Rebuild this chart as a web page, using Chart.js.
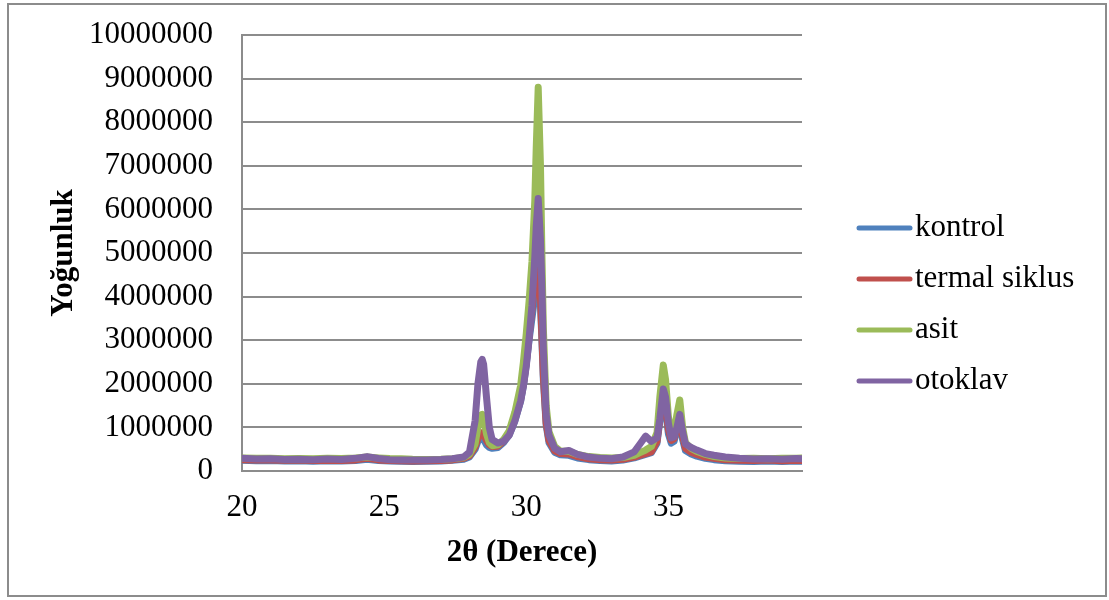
<!DOCTYPE html>
<html>
<head>
<meta charset="utf-8">
<script src="https://cdn.jsdelivr.net/npm/chart.js@4/dist/chart.umd.min.js"></script>
<style>
	body { margin: 0; background: #ffffff; }
	#wrap { width: 1109px; height: 600px; }
</style>
</head>
<body>
<div id="wrap"><canvas id="xrdChart" width="1109" height="600"></canvas></div>
<script>
'use strict';

// 2θ positions (degrees)
var twoTheta = [
	20.0, 20.5, 21.0, 21.5, 22.0, 22.5, 23.0, 23.5, 24.0, 24.4,
	24.8, 25.2, 25.6, 26.0, 26.5, 27.0, 27.4, 27.8, 28.0, 28.2,
	28.3, 28.4, 28.45, 28.5, 28.6, 28.7, 28.8, 29.0, 29.2, 29.4,
	29.6, 29.8, 29.9, 30.0, 30.1, 30.2, 30.3, 30.35, 30.42, 30.5,
	30.55, 30.6, 30.7, 30.8, 31.0, 31.2, 31.5, 31.8, 32.2, 32.6,
	33.0, 33.4, 33.8, 34.0, 34.2, 34.4, 34.6, 34.7, 34.82, 34.9,
	35.0, 35.1, 35.2, 35.3, 35.4, 35.5, 35.6, 35.8, 36.0, 36.3,
	36.6, 37.0, 37.5, 38.0, 38.5, 39.0, 39.5, 39.7
];

var kontrol = [
	245000, 235000, 240000, 230000, 235000, 225000, 235000, 230000, 240000, 270000,
	240000, 230000, 225000, 220000, 225000, 230000, 245000, 270000, 320000, 500000,
	680000, 750000, 760000, 720000, 600000, 540000, 520000, 540000, 650000, 830000,
	1150000, 1600000, 1950000, 2450000, 3000000, 3500000, 4000000, 4200000, 4300000, 3800000,
	3000000, 2100000, 1050000, 650000, 430000, 370000, 360000, 300000, 260000, 240000,
	230000, 250000, 300000, 340000, 380000, 420000, 640000, 1150000, 1650000, 1400000,
	850000, 640000, 680000, 950000, 1150000, 720000, 470000, 390000, 340000, 290000,
	260000, 235000, 225000, 220000, 230000, 220000, 230000, 225000
];

var termalSiklus = [
	260000, 255000, 250000, 245000, 250000, 240000, 245000, 240000, 255000, 290000,
	255000, 240000, 235000, 230000, 235000, 240000, 255000, 290000, 350000, 550000,
	750000, 860000, 880000, 830000, 700000, 600000, 560000, 570000, 680000, 860000,
	1200000, 1650000, 2000000, 2500000, 3100000, 3700000, 4300000, 4600000, 4800000, 4000000,
	3100000, 2200000, 1100000, 700000, 460000, 400000, 390000, 330000, 280000, 260000,
	250000, 270000, 320000, 360000, 400000, 440000, 680000, 1200000, 1700000, 1500000,
	950000, 700000, 740000, 1000000, 1200000, 800000, 520000, 430000, 380000, 320000,
	290000, 260000, 245000, 240000, 250000, 235000, 245000, 240000
];

var asit = [
	300000, 290000, 295000, 280000, 285000, 280000, 290000, 285000, 300000, 320000,
	300000, 285000, 280000, 270000, 265000, 270000, 280000, 310000, 380000, 620000,
	1000000, 1280000, 1300000, 1200000, 850000, 650000, 580000, 600000, 720000, 920000,
	1350000, 1950000, 2500000, 3150000, 3900000, 4800000, 6200000, 7400000, 8800000, 7000000,
	5000000, 3300000, 1500000, 900000, 560000, 460000, 450000, 380000, 330000, 310000,
	300000, 310000, 360000, 420000, 480000, 560000, 880000, 1700000, 2430000, 2100000,
	1250000, 880000, 900000, 1300000, 1630000, 1000000, 650000, 520000, 450000, 380000,
	330000, 300000, 285000, 290000, 280000, 295000, 290000, 300000
];

var otoklav = [
	290000, 275000, 280000, 265000, 270000, 260000, 275000, 265000, 290000, 330000,
	285000, 260000, 255000, 250000, 255000, 265000, 280000, 320000, 430000, 1150000,
	2000000, 2500000, 2560000, 2450000, 1700000, 1000000, 720000, 640000, 680000, 820000,
	1150000, 1600000, 1950000, 2400000, 3050000, 3800000, 4900000, 5600000, 6250000, 5300000,
	4200000, 2800000, 1300000, 820000, 520000, 440000, 470000, 380000, 320000, 290000,
	280000, 320000, 440000, 620000, 800000, 680000, 760000, 1200000, 1880000, 1700000,
	1100000, 760000, 780000, 1000000, 1300000, 900000, 620000, 540000, 480000, 400000,
	360000, 320000, 290000, 275000, 280000, 270000, 285000, 280000
];

var seriesNames = ['kontrol', 'termal siklus', 'asit', 'otoklav'];
var seriesColors = ['#4f81bd', '#c0504d', '#9bbb59', '#8064a2'];
var xTicks = [20, 25, 30, 35];
var yTicks = [0, 1000000, 2000000, 3000000, 4000000, 5000000, 6000000, 7000000, 8000000, 9000000, 10000000];

var fontFamily = "'Liberation Serif', 'Times New Roman', serif";

function toPoints(values) {
	return values.map(function(v, i) {
		return { x: twoTheta[i], y: v };
	});
}

// frame, axis titles and legend
var decorPlugin = {
	id: 'decor',
	beforeDraw: function(chart) {
		var ctx = chart.ctx;
		ctx.save();
		ctx.fillStyle = '#ffffff';
		ctx.fillRect(0, 0, chart.width, chart.height);
		ctx.strokeStyle = '#8c8c8c';
		ctx.lineWidth = 2;
		ctx.strokeRect(8, 4, 1098, 592);
		ctx.restore();
	},
	afterDraw: function(chart) {
		var ctx = chart.ctx;
		var area = chart.chartArea;
		ctx.save();
		ctx.fillStyle = '#000000';
		ctx.font = 'bold 31px ' + fontFamily;
		ctx.textAlign = 'center';
		ctx.textBaseline = 'middle';
		ctx.fillText('2θ (Derece)', (area.left + area.right) / 2, 553);

		ctx.save();
		ctx.translate(64, (area.top + area.bottom) / 2);
		ctx.rotate(-Math.PI / 2);
		ctx.fillText('Yoğunluk', 0, 0);
		ctx.restore();

		ctx.font = '31px ' + fontFamily;
		ctx.textAlign = 'left';
		chart.data.datasets.forEach(function(ds, i) {
			var y = 228 + i * 51;
			ctx.strokeStyle = ds.borderColor;
			ctx.lineWidth = 5;
			ctx.lineCap = 'round';
			ctx.beginPath();
			ctx.moveTo(859, y);
			ctx.lineTo(910, y);
			ctx.stroke();
			ctx.fillText(ds.label, 915, y);
		});
		ctx.restore();
	}
};

var ctx = document.getElementById('xrdChart').getContext('2d');
var seriesValues = [kontrol, termalSiklus, asit, otoklav];

new Chart(ctx, {
	type: 'line',
	data: {
		datasets: seriesValues.map(function(vals, i) {
			return {
				label: seriesNames[i],
				data: toPoints(vals),
				borderColor: seriesColors[i],
				backgroundColor: seriesColors[i],
				borderWidth: 7,
				borderJoinStyle: 'round',
				borderCapStyle: 'round',
				pointRadius: 0,
				tension: 0,
				order: seriesValues.length - i
			};
		})
	},
	options: {
		responsive: false,
		animation: false,
		layout: {
			padding: { top: 35, right: 307, bottom: 0, left: 0 }
		},
		plugins: {
			legend: { display: false },
			tooltip: { enabled: false }
		},
		scales: {
			x: {
				type: 'linear',
				min: 20,
				max: 39.7,
				afterBuildTicks: function(scale) {
					scale.ticks = xTicks.map(function(v) { return { value: v }; });
				},
				afterFit: function(scale) {
					scale.height = 129;
					scale.paddingLeft = 0;
					scale.paddingRight = 0;
				},
				grid: { display: false, drawTicks: false },
				border: { display: true, color: '#8c8c8c', width: 2 },
				ticks: {
					padding: 18,
					color: '#000000',
					maxRotation: 0,
					font: { family: fontFamily, size: 31 }
				}
			},
			y: {
				min: 0,
				max: 10000000,
				afterBuildTicks: function(scale) {
					scale.ticks = yTicks.map(function(v) { return { value: v }; });
				},
				afterFit: function(scale) {
					scale.width = 242;
					scale.paddingTop = 0;
					scale.paddingBottom = 0;
				},
				grid: { color: '#8c8c8c', lineWidth: 2, drawTicks: false },
				border: { display: true, color: '#8c8c8c', width: 2 },
				ticks: {
					padding: 29,
					color: '#000000',
					font: { family: fontFamily, size: 31 },
					callback: function(v) { return String(v); }
				}
			}
		}
	},
	plugins: [decorPlugin]
});
</script>
</body>
</html>
